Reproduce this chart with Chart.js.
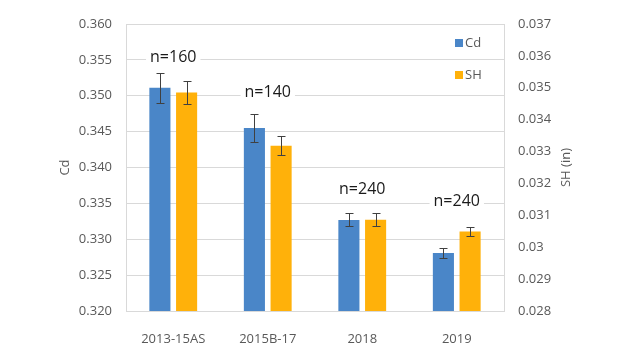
<!DOCTYPE html>
<html>
<head>
<meta charset="utf-8">
<script src="https://cdn.jsdelivr.net/npm/chart.js@4/dist/chart.umd.min.js"></script>
<style>
  html, body { margin: 0; padding: 0; background: #fff; }
  #wrap { width: 638px; height: 352px; }
</style>
</head>
<body>
<div id="wrap"><canvas id="cdChart"></canvas></div>
<script>
// data
var categories = ['2013-15AS', '2015B-17', '2018', '2019'];
var cdValues = [0.3511, 0.3455, 0.3327, 0.3281];
var cdErrors = [0.0021, 0.0019, 0.0009, 0.0007];
var shValues = [0.03485, 0.03318, 0.03086, 0.03049];
var shErrors = [0.00036, 0.0003, 0.0002, 0.00014];
var countLabels = ['n=160', 'n=140', 'n=240', 'n=240'];
var countLabelAt = [0.3554, 0.3504, 0.3370, 0.3353]; // in Cd units

var blue = '#4a86c8';
var gold = '#ffb10a';
var grey = '#595959';
var gridGrey = '#d9d9d9';
var fontFamily = '"Open Sans", sans-serif';

// error bars, n= labels, legend and axis titles
var extrasPlugin = {
    id: 'extras',
    afterDatasetsDraw: function (chart) {
        var ctx = chart.ctx;
        var errs = [cdErrors, shErrors];
        ctx.save();
        ctx.strokeStyle = '#404040';
        ctx.lineWidth = 1;
        chart.data.datasets.forEach(function (ds, i) {
            var meta = chart.getDatasetMeta(i);
            var scale = chart.scales[ds.yAxisID];
            meta.data.forEach(function (bar, j) {
                var v = ds.data[j], e = errs[i][j];
                var x = Math.round(bar.x) + 0.5;
                var yTop = Math.round(scale.getPixelForValue(v + e)) + 0.5;
                var yBot = Math.round(scale.getPixelForValue(v - e)) + 0.5;
                ctx.beginPath();
                ctx.moveTo(x, yTop); ctx.lineTo(x, yBot);
                ctx.moveTo(x - 4, yTop); ctx.lineTo(x + 4, yTop);
                ctx.moveTo(x - 4, yBot); ctx.lineTo(x + 4, yBot);
                ctx.stroke();
            });
        });

        // n= labels with white backing over the gridlines
        var xs = chart.scales.x, yl = chart.scales.y;
        ctx.font = '16px ' + fontFamily;
        ctx.textAlign = 'center';
        ctx.textBaseline = 'middle';
        countLabels.forEach(function (t, j) {
            var cx = xs.getPixelForValue(j);
            var cy = yl.getPixelForValue(countLabelAt[j]);
            var w = ctx.measureText(t).width + 8;
            ctx.fillStyle = '#fff';
            ctx.fillRect(cx - w / 2, cy - 10, w, 20);
            ctx.fillStyle = '#1a1a1a';
            ctx.fillText(t, cx, cy);
        });

        // legend
        var area = chart.chartArea;
        var lx = area.right - 49;
        [['Cd', blue, area.top + 19], ['SH', gold, area.top + 51]].forEach(function (it) {
            ctx.fillStyle = it[1];
            ctx.fillRect(lx, it[2] - 4, 8, 8);
            ctx.fillStyle = grey;
            ctx.font = '13px ' + fontFamily;
            ctx.textAlign = 'left';
            ctx.fillText(it[0], lx + 10, it[2]);
        });

        // axis titles
        var midY = (area.top + area.bottom) / 2;
        ctx.font = '13px ' + fontFamily;
        ctx.fillStyle = grey;
        ctx.textAlign = 'center';
        [[65, 'Cd'], [566, 'SH (in)']].forEach(function (a) {
            ctx.save();
            ctx.translate(a[0], midY);
            ctx.rotate(-Math.PI / 2);
            ctx.fillText(a[1], 0, 0);
            ctx.restore();
        });
        ctx.restore();
    }
};

var ctxCd = document.getElementById('cdChart').getContext('2d');
var cdChart = new Chart(ctxCd, {
    type: 'bar',
    data: {
        labels: categories,
        datasets: [{
            label: 'Cd',
            data: cdValues,
            yAxisID: 'y',
            backgroundColor: blue,
            categoryPercentage: 0.565,
            barPercentage: 0.79
        }, {
            label: 'SH',
            data: shValues,
            yAxisID: 'y2',
            backgroundColor: gold,
            categoryPercentage: 0.565,
            barPercentage: 0.79
        }]
    },
    options: {
        responsive: true,
        maintainAspectRatio: false,
        animation: false,
        layout: { padding: { top: 24, left: 0, right: 0, bottom: 0 } },
        plugins: {
            legend: { display: false },
            tooltip: { enabled: false }
        },
        scales: {
            x: {
                grid: { display: false },
                border: { display: false },
                ticks: { color: grey, font: { family: fontFamily, size: 13 }, padding: 12 },
                afterFit: function (s) { s.height = 41; }
            },
            y: {
                position: 'left',
                min: 0.32,
                max: 0.36,
                ticks: {
                    stepSize: 0.005,
                    color: grey,
                    padding: 14,
                    font: { family: fontFamily, size: 13 },
                    callback: function (v) { return v.toFixed(3); }
                },
                grid: { color: gridGrey, lineWidth: 1, drawTicks: false },
                border: { display: true, color: gridGrey },
                afterFit: function (s) { s.width = 126; }
            },
            y2: {
                position: 'right',
                min: 0.028,
                max: 0.037,
                ticks: {
                    stepSize: 0.001,
                    color: grey,
                    padding: 14,
                    font: { family: fontFamily, size: 13 },
                    callback: function (v) { return String(Number(v.toFixed(3))); }
                },
                grid: { drawOnChartArea: false, drawTicks: false },
                border: { display: true, color: gridGrey },
                afterFit: function (s) { s.width = 134; }
            }
        }
    },
    plugins: [extrasPlugin]
});
</script>
</body>
</html>
